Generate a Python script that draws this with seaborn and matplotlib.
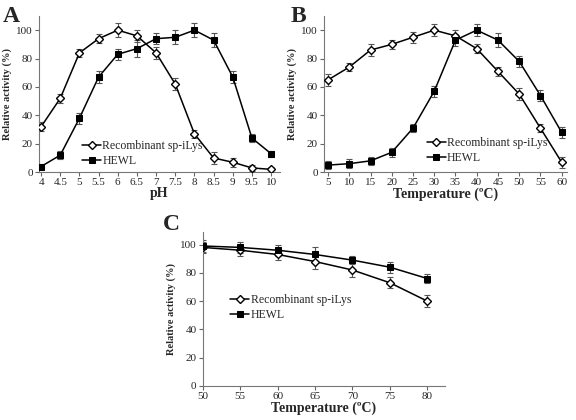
import matplotlib
matplotlib.use("Agg")
import matplotlib.pyplot as plt
import numpy as np
import pandas as pd
import seaborn as sns

sns.set_style("ticks")
plt.rcParams["font.family"] = ["Liberation Serif", "DejaVu Serif"]

# panel A: pH
ph = [4, 4.5, 5, 5.5, 6, 6.5, 7, 7.5, 8, 8.5, 9, 9.5, 10]
ph_recomb = [32, 52, 84, 94, 100, 96, 84, 62, 27, 10, 7, 3, 2]
ph_recomb_err = [3, 3, 3, 3, 5, 4, 4, 4, 3, 4, 3, 2, 2]
ph_hewl = [4, 12, 38, 67, 83, 87, 94, 95, 100, 93, 67, 24, 13]
ph_hewl_err = [2, 3, 4, 4, 4, 6, 4, 5, 5, 5, 4, 3, 2]

# panel B: temperature
temp_b = [5, 10, 15, 20, 25, 30, 35, 40, 45, 50, 55, 60]
tb_recomb = [65, 74, 86, 90, 95, 100, 96, 87, 71, 55, 31, 7]
tb_recomb_err = [4, 3, 4, 3, 4, 4, 4, 3, 3, 4, 3, 4]
tb_hewl = [5, 6, 8, 14, 31, 57, 93, 100, 93, 78, 54, 28]
tb_hewl_err = [3, 3, 3, 3, 3, 4, 4, 4, 5, 4, 4, 4]

# panel C: thermal stability
temp_c = [50, 55, 60, 65, 70, 75, 80]
tc_recomb = [98, 96, 93, 88, 82, 73, 60]
tc_recomb_err = [4, 4, 4, 5, 5, 4, 4]
tc_hewl = [99, 98, 96, 93, 89, 84, 76]
tc_hewl_err = [4, 4, 4, 5, 3, 4, 3]

labels = ["Recombinant sp-iLys", "HEWL"]

fig = plt.figure(figsize=(5.76, 4.2), dpi=100)
axA = fig.add_axes([0.068, 0.590, 0.418, 0.372])
axB = fig.add_axes([0.5625, 0.590, 0.4215, 0.372])
axC = fig.add_axes([0.352, 0.081, 0.421, 0.367])


def draw(ax, x, y1, e1, y2, e2, xlim, xticks, xlabel, ylim_top, legend_loc):
    df = pd.DataFrame({"x": list(x) * 2, "y": list(y1) + list(y2),
                       "s": [labels[0]] * len(x) + [labels[1]] * len(x)})
    ax.errorbar(x, y1, yerr=e1, fmt="none", ecolor="#555555", elinewidth=0.8,
                capsize=2.5, capthick=0.8, zorder=1)
    ax.errorbar(x, y2, yerr=e2, fmt="none", ecolor="#555555", elinewidth=0.8,
                capsize=2.5, capthick=0.8, zorder=1)
    sns.lineplot(data=df[df.s == labels[0]], x="x", y="y", ax=ax, color="black",
                 lw=1.1, marker="D", markersize=4.5, markerfacecolor="white",
                 markeredgecolor="black", markeredgewidth=1.0, label=labels[0], zorder=3)
    sns.lineplot(data=df[df.s == labels[1]], x="x", y="y", ax=ax, color="black",
                 lw=1.1, marker="s", markersize=4, markerfacecolor="black",
                 markeredgecolor="black", label=labels[1], zorder=3)
    ax.set_xlim(*xlim)
    ax.set_ylim(0, ylim_top)
    ax.set_xticks(xticks)
    ax.set_xticklabels([("%g" % t) for t in xticks])
    ax.set_yticks([0, 20, 40, 60, 80, 100])
    ax.tick_params(labelsize=8, length=3, width=0.8, color="#666666", pad=1.5)
    ax.set_xlabel(xlabel, fontsize=10, fontweight="bold", labelpad=0)
    ax.set_ylabel("Relative activity (%)", fontsize=7.5, fontweight="bold", labelpad=3)
    for sp in ["top", "right"]:
        ax.spines[sp].set_visible(False)
    for sp in ["left", "bottom"]:
        ax.spines[sp].set_color("#777777")
        ax.spines[sp].set_linewidth(0.8)
    ax.legend(loc="center left", bbox_to_anchor=legend_loc, frameon=False,
              fontsize=8.5, handlelength=1.6, handletextpad=0.1, labelspacing=0.25,
              borderpad=0)


draw(axA, ph, ph_recomb, ph_recomb_err, ph_hewl, ph_hewl_err, (3.95, 10.23),
     ph, "pH", 110, (0.155, 0.12))
draw(axB, temp_b, tb_recomb, tb_recomb_err, tb_hewl, tb_hewl_err, (4.05, 61.2),
     temp_b, "Temperature (ºC)", 110, (0.40, 0.14))
draw(axC, temp_c, tc_recomb, tc_recomb_err, tc_hewl, tc_hewl_err, (50, 82.4),
     temp_c, "Temperature (ºC)", 109, (0.09, 0.51))

fig.text(0.005, 0.985, "A", fontsize=17, fontweight="bold", va="top")
fig.text(0.505, 0.985, "B", fontsize=17, fontweight="bold", va="top")
fig.text(0.283, 0.490, "C", fontsize=17, fontweight="bold", va="top")

fig.savefig("out.png", dpi=100)
